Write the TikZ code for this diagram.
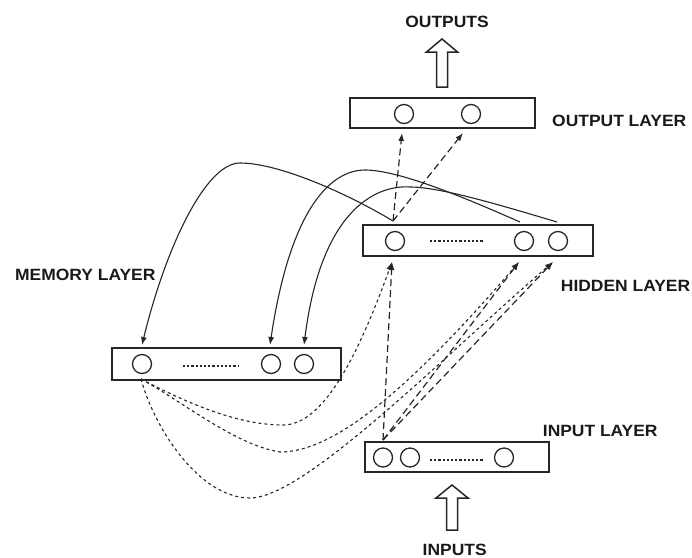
\documentclass[tikz,border=0pt]{standalone}
\usepackage{fontspec}
\newfontfamily\lblfont{Liberation Sans}[FakeStretch=1.07]
\usetikzlibrary{arrows.meta}
\begin{document}
\begin{tikzpicture}[x=1pt,y=-1pt,
  ink/.style={black!85},
  layerbox/.style={draw=black!85,line width=1.8pt,rectangle,inner sep=0pt},
  neuron/.style={circle,draw=black!85,line width=1.3pt,minimum size=19pt,inner sep=0pt},
  dots/.style={draw=black!85,line width=2pt,dash pattern=on 2.2pt off 2pt},
  caption/.style={font=\lblfont\bfseries\fontsize{16.3}{18}\selectfont,inner sep=0pt,text=black!90},
  tip/.style={-{Latex[length=8pt,width=6pt]}},
  feed/.style={tip,draw=black!85,line width=1.2pt,dash pattern=on 7pt off 4pt},
  ctx/.style={tip,draw=black!85,line width=1.1pt,dash pattern=on 3pt off 3pt},
  copyback/.style={tip,draw=black!85,line width=1.1pt},
  bigarrow/.style={draw=black!85,line width=1.5pt,line join=miter}]
\useasboundingbox (0,0) rectangle (692,557);

% layers
\node[layerbox,minimum width=185pt,minimum height=30pt] (outbox) at (442.5,113) {};
\node[layerbox,minimum width=230pt,minimum height=31pt] (hidbox) at (478,240.5) {};
\node[layerbox,minimum width=229pt,minimum height=32pt] (membox) at (226.5,364) {};
\node[layerbox,minimum width=184pt,minimum height=30pt] (inbox) at (457,457) {};

% units
\node[neuron] (o1) at (404,114) {};
\node[neuron] (o2) at (471,114) {};
\node[neuron] (h1) at (395,241) {};
\node[neuron] (h2) at (524,241) {};
\node[neuron] (h3) at (558,241) {};
\node[neuron] (m1) at (142,364) {};
\node[neuron] (m2) at (271,364) {};
\node[neuron] (m3) at (304,364) {};
\node[neuron] (i1) at (383,457.5) {};
\node[neuron] (i2) at (410,457.5) {};
\node[neuron] (i3) at (504,457.5) {};

\draw[dots] (430,241) -- (483,241);
\draw[dots] (183,366) -- (238,366);
\draw[dots] (430,460) -- (483,460);

% connector end points
\coordinate (h1top) at (393,221);
\coordinate (h2top) at (520,222);
\coordinate (h3top) at (557,222);
\coordinate (h1bot) at (392,262);
\coordinate (h2bot) at (519,262);
\coordinate (h3bot) at (553,262);
\coordinate (o1bot) at (402,133);
\coordinate (o2bot) at (463,133);
\coordinate (m1top) at (142,345);
\coordinate (m2top) at (270,345);
\coordinate (m3top) at (304,345);
\coordinate (m1bot) at (141,379);
\coordinate (i1top) at (383,440);

% hidden -> output
\draw[feed] (h1top) -- (o1bot);
\draw[feed] (h1top) -- (o2bot);

% input -> hidden
\draw[feed] (i1top) -- (h1bot);
\draw[feed] (i1top) -- (h2bot);
\draw[feed] (i1top) -- (h3bot);

% hidden copied back to memory
\draw[copyback] (h1top) .. controls (350,195) and (280,163) .. (240,163)
  .. controls (205,163) and (165,250) .. (m1top);
\draw[copyback] (h2top) .. controls (470,200) and (400,170) .. (365,170)
  .. controls (330,170) and (290,210) .. (m2top);
\draw[copyback] (h3top) .. controls (500,205) and (440,187) .. (410,187)
  .. controls (382,185) and (322,202) .. (m3top);

% memory -> hidden
\draw[ctx] (m1bot) .. controls (200,410) and (245,425) .. (283,425)
  .. controls (325,425) and (360,350) .. (h1bot);
\draw[ctx] (m1bot) .. controls (180,400) and (235,445) .. (280,452)
  .. controls (330,452) and (400,400) .. (h2bot);
\draw[ctx] (m1bot) .. controls (155,430) and (200,498) .. (250,498)
  .. controls (305,498) and (445,355) .. (h3bot);

% network outputs and inputs
\draw[bigarrow] (436.5,87) -- (436.5,52) -- (426.5,52) -- (442,39) -- (457.5,52)
  -- (447.5,52) -- (447.5,87) -- cycle;
\draw[bigarrow] (446.5,530) -- (446.5,498) -- (436,498) -- (452,485) -- (468,498)
  -- (457.5,498) -- (457.5,530) -- cycle;

% captions
\node[caption,anchor=base] (toptxt) at (447,27.7) {OUTPUTS};
\node[caption,anchor=base] (bottxt) at (454.7,555) {INPUTS};
\node[caption,anchor=base west] (outlbl) at (552,126.7) {OUTPUT LAYER};
\node[caption,anchor=base west] (hidlbl) at (560.7,291.7) {HIDDEN LAYER};
\node[caption,anchor=base west] (memlbl) at (15,280) {MEMORY LAYER};
\node[caption,anchor=base west] (inlbl) at (542.7,436.7) {INPUT LAYER};
\end{tikzpicture}
\end{document}
